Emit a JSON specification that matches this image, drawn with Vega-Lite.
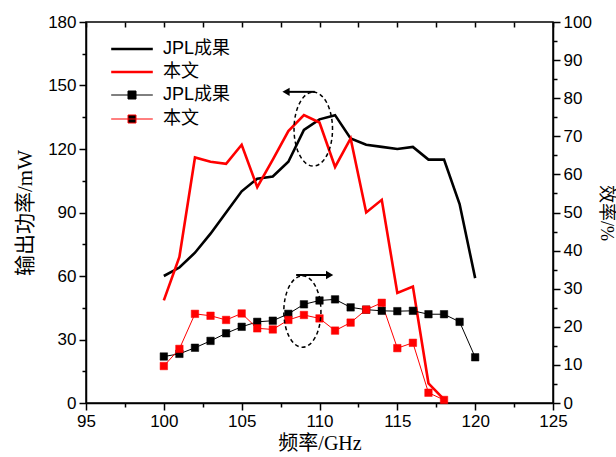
{
  "$schema": "https://vega.github.io/schema/vega-lite/v6.json",
  "width": 467,
  "height": 381,
  "autosize": "none",
  "padding": {"left": 86, "top": 22, "right": 63, "bottom": 54},
  "background": "white",
  "config": {
    "font": "Liberation Sans",
    "view": {"stroke": "black", "strokeWidth": 1.5},
    "axis": {
      "grid": false,
      "domainColor": "black",
      "domainWidth": 1.5,
      "tickColor": "black",
      "tickWidth": 1.5,
      "labelColor": "black",
      "labelFont": "Liberation Sans",
      "labelFontSize": 17,
      "titleColor": "black",
      "titleFontWeight": "normal",
      "titleFont": "Liberation Serif, Noto Sans CJK SC"
    }
  },
  "datasets": {
    "power": [
      {"freq": 100, "power": 60, "series": "JPL成果"},
      {"freq": 101, "power": 64, "series": "JPL成果"},
      {"freq": 102, "power": 71, "series": "JPL成果"},
      {"freq": 103, "power": 80, "series": "JPL成果"},
      {"freq": 104, "power": 90, "series": "JPL成果"},
      {"freq": 105, "power": 100, "series": "JPL成果"},
      {"freq": 106, "power": 106, "series": "JPL成果"},
      {"freq": 107, "power": 107, "series": "JPL成果"},
      {"freq": 108, "power": 114, "series": "JPL成果"},
      {"freq": 109, "power": 129, "series": "JPL成果"},
      {"freq": 110, "power": 134, "series": "JPL成果"},
      {"freq": 111, "power": 136, "series": "JPL成果"},
      {"freq": 112, "power": 125, "series": "JPL成果"},
      {"freq": 113, "power": 122, "series": "JPL成果"},
      {"freq": 114, "power": 121, "series": "JPL成果"},
      {"freq": 115, "power": 120, "series": "JPL成果"},
      {"freq": 116, "power": 121, "series": "JPL成果"},
      {"freq": 117, "power": 115, "series": "JPL成果"},
      {"freq": 118, "power": 115, "series": "JPL成果"},
      {"freq": 119, "power": 94, "series": "JPL成果"},
      {"freq": 120, "power": 59, "series": "JPL成果"},
      {"freq": 100, "power": 48.5, "series": "本文"},
      {"freq": 101, "power": 69, "series": "本文"},
      {"freq": 102, "power": 116, "series": "本文"},
      {"freq": 103, "power": 114, "series": "本文"},
      {"freq": 104, "power": 113, "series": "本文"},
      {"freq": 105, "power": 122, "series": "本文"},
      {"freq": 106, "power": 102, "series": "本文"},
      {"freq": 107, "power": 115, "series": "本文"},
      {"freq": 108, "power": 128.5, "series": "本文"},
      {"freq": 109, "power": 136, "series": "本文"},
      {"freq": 110, "power": 132.5, "series": "本文"},
      {"freq": 111, "power": 111.5, "series": "本文"},
      {"freq": 112, "power": 125, "series": "本文"},
      {"freq": 113, "power": 90, "series": "本文"},
      {"freq": 114, "power": 96, "series": "本文"},
      {"freq": 115, "power": 52, "series": "本文"},
      {"freq": 116, "power": 55, "series": "本文"},
      {"freq": 117, "power": 9.3, "series": "本文"},
      {"freq": 118, "power": 1.7, "series": "本文"}
    ],
    "eff": [
      {"freq": 100, "eff": 12.2, "series": "JPL成果"},
      {"freq": 101, "eff": 12.9, "series": "JPL成果"},
      {"freq": 102, "eff": 14.5, "series": "JPL成果"},
      {"freq": 103, "eff": 16.3, "series": "JPL成果"},
      {"freq": 104, "eff": 18.3, "series": "JPL成果"},
      {"freq": 105, "eff": 20, "series": "JPL成果"},
      {"freq": 106, "eff": 21.3, "series": "JPL成果"},
      {"freq": 107, "eff": 21.6, "series": "JPL成果"},
      {"freq": 108, "eff": 23.4, "series": "JPL成果"},
      {"freq": 109, "eff": 25.9, "series": "JPL成果"},
      {"freq": 110, "eff": 26.9, "series": "JPL成果"},
      {"freq": 111, "eff": 27.2, "series": "JPL成果"},
      {"freq": 112, "eff": 25.1, "series": "JPL成果"},
      {"freq": 113, "eff": 24.5, "series": "JPL成果"},
      {"freq": 114, "eff": 24.2, "series": "JPL成果"},
      {"freq": 115, "eff": 24.1, "series": "JPL成果"},
      {"freq": 116, "eff": 24.2, "series": "JPL成果"},
      {"freq": 117, "eff": 23.3, "series": "JPL成果"},
      {"freq": 118, "eff": 23.3, "series": "JPL成果"},
      {"freq": 119, "eff": 21.3, "series": "JPL成果"},
      {"freq": 120, "eff": 12, "series": "JPL成果"},
      {"freq": 100, "eff": 9.7, "series": "本文"},
      {"freq": 101, "eff": 14.2, "series": "本文"},
      {"freq": 102, "eff": 23.4, "series": "本文"},
      {"freq": 103, "eff": 22.9, "series": "本文"},
      {"freq": 104, "eff": 21.8, "series": "本文"},
      {"freq": 105, "eff": 23.5, "series": "本文"},
      {"freq": 106, "eff": 19.6, "series": "本文"},
      {"freq": 107, "eff": 19.3, "series": "本文"},
      {"freq": 108, "eff": 21.8, "series": "本文"},
      {"freq": 109, "eff": 23.1, "series": "本文"},
      {"freq": 110, "eff": 22.2, "series": "本文"},
      {"freq": 111, "eff": 19, "series": "本文"},
      {"freq": 112, "eff": 21.1, "series": "本文"},
      {"freq": 113, "eff": 24.5, "series": "本文"},
      {"freq": 114, "eff": 26.3, "series": "本文"},
      {"freq": 115, "eff": 14.4, "series": "本文"},
      {"freq": 116, "eff": 15.8, "series": "本文"},
      {"freq": 117, "eff": 2.7, "series": "本文"},
      {"freq": 118, "eff": 0.8, "series": "本文"}
    ]
  },
  "layer": [
    {
      "encoding": {
        "x": {
          "field": "freq", "type": "quantitative",
          "scale": {"domain": [95, 125], "nice": false, "zero": false},
          "axis": {
            "orient": "bottom",
            "values": [95, 97.5, 100, 102.5, 105, 107.5, 110, 112.5, 115, 117.5, 120, 122.5, 125],
            "labelExpr": "datum.value % 5 === 0 ? datum.label : ''",
            "tickSize": {"condition": {"test": "datum.value % 5 === 0", "value": 7}, "value": 4},
            "labelPadding": 3,
            "labelFlush": false,
            "labelOverlap": false,
            "title": "频率/GHz",
            "titleFontSize": 20,
            "titlePadding": 4
          }
        },
        "y": {
          "field": "power", "type": "quantitative",
          "scale": {"domain": [0, 180], "nice": false},
          "axis": {
            "orient": "left",
            "values": [0, 15, 30, 45, 60, 75, 90, 105, 120, 135, 150, 165, 180],
            "labelExpr": "datum.value % 30 === 0 ? datum.label : ''",
            "tickSize": {"condition": {"test": "datum.value % 30 === 0", "value": 7}, "value": 4},
            "labelPadding": 3,
            "labelFlush": false,
            "labelOverlap": false,
            "title": "输出功率/mW",
            "titleFontSize": 21,
            "titlePadding": 12
          }
        }
      },
      "layer": [
        {
          "data": {"name": "power"},
          "mark": {"type": "line", "strokeWidth": 2.6},
          "encoding": {
            "stroke": {
              "field": "series", "type": "nominal",
              "scale": {"domain": ["JPL成果", "本文"], "range": ["#000000", "#ff0000"]},
              "legend": {
                "orient": "none", "legendX": 37, "legendY": 18, "title": null,
                "padding": 0, "rowPadding": 5,
                "symbolType": "M-5.2,0H5.2", "symbolSize": 64, "symbolStrokeWidth": 2.6,
                "labelOffset": 22, "labelFont": "Liberation Sans, Noto Sans CJK SC",
                "labelFontSize": 18, "labelColor": "black"
              }
            }
          }
        },
        {
          "data": {"values": [{"freq": 109.6, "power": 129.4}]},
          "mark": {
            "type": "point",
            "shape": "M0,-1C0.287,-1,0.52,-0.552,0.52,0C0.52,0.552,0.287,1,0,1C-0.287,1,-0.52,0.552,-0.52,0C-0.52,-0.552,-0.287,-1,0,-1Z",
            "size": 5476, "filled": false, "stroke": "black", "strokeWidth": 1.5,
            "strokeDash": [4, 3], "opacity": 1
          }
        },
        {
          "data": {"values": [{"freq": 109.7, "freq2": 107.9, "power": 147}]},
          "mark": {"type": "rule", "stroke": "black", "strokeWidth": 2},
          "encoding": {"x2": {"field": "freq2"}}
        },
        {
          "data": {"values": [{"freq": 107.85, "power": 147}]},
          "mark": {"type": "point", "shape": "triangle-left", "size": 70, "filled": true, "color": "black", "opacity": 1}
        }
      ]
    },
    {
      "encoding": {
        "x": {
          "field": "freq", "type": "quantitative",
          "scale": {"domain": [95, 125], "nice": false, "zero": false},
          "axis": null
        },
        "y": {
          "field": "eff", "type": "quantitative",
          "scale": {"domain": [0, 100], "nice": false},
          "axis": {
            "orient": "right",
            "values": [0, 5, 10, 15, 20, 25, 30, 35, 40, 45, 50, 55, 60, 65, 70, 75, 80, 85, 90, 95, 100],
            "labelExpr": "datum.value % 10 === 0 ? datum.label : ''",
            "tickSize": {"condition": {"test": "datum.value % 10 === 0", "value": 7}, "value": 4},
            "labelPadding": 3,
            "labelFlush": false,
            "labelOverlap": false,
            "title": "效率/%",
            "titleFontSize": 18,
            "titlePadding": 5
          }
        }
      },
      "layer": [
        {
          "data": {"name": "eff"},
          "transform": [{"filter": "datum.series === 'JPL成果'"}],
          "mark": {"type": "line", "stroke": "black", "strokeWidth": 1}
        },
        {
          "data": {"name": "eff"},
          "transform": [{"filter": "datum.series === '本文'"}],
          "mark": {"type": "line", "stroke": "#ff0000", "strokeWidth": 1}
        },
        {
          "data": {"name": "eff"},
          "mark": {"type": "point", "shape": "square", "filled": true, "size": 56, "opacity": 1, "strokeWidth": 0.5},
          "encoding": {
            "fill": {
              "field": "series", "type": "nominal",
              "scale": {"domain": ["JPL成果", "本文"], "range": ["#000000", "#ff0000"]},
              "legend": {
                "orient": "none", "legendX": 37, "legendY": 64, "title": null,
                "padding": 0, "rowPadding": 6,
                "symbolType": "M-5.2,0H5.2M-1,-1H1V1H-1Z", "symbolSize": 64, "symbolStrokeWidth": 1,
                "symbolOpacity": 1,
                "labelOffset": 22, "labelFont": "Liberation Sans, Noto Sans CJK SC",
                "labelFontSize": 18, "labelColor": "black"
              }
            },
            "stroke": {
              "field": "series", "type": "nominal",
              "scale": {"domain": ["JPL成果", "本文"], "range": ["#000000", "#ff0000"]},
              "legend": {
                "orient": "none", "legendX": 37, "legendY": 64, "title": null,
                "padding": 0, "rowPadding": 6,
                "symbolType": "M-5.2,0H5.2M-1,-1H1V1H-1Z", "symbolSize": 64, "symbolStrokeWidth": 1,
                "symbolOpacity": 1,
                "labelOffset": 22, "labelFont": "Liberation Sans, Noto Sans CJK SC",
                "labelFontSize": 18, "labelColor": "black", "labelOpacity": 0
              }
            }
          }
        },
        {
          "data": {"values": [{"freq": 108.9, "eff": 24}]},
          "mark": {
            "type": "point",
            "shape": "M0,-1C0.287,-1,0.52,-0.552,0.52,0C0.52,0.552,0.287,1,0,1C-0.287,1,-0.52,0.552,-0.52,0C-0.52,-0.552,-0.287,-1,0,-1Z",
            "size": 5098, "filled": false, "stroke": "black", "strokeWidth": 1.5,
            "strokeDash": [4, 3], "opacity": 1
          }
        },
        {
          "data": {"values": [{"freq": 108.5, "freq2": 110.6, "eff": 33.6}]},
          "mark": {"type": "rule", "stroke": "black", "strokeWidth": 2},
          "encoding": {"x2": {"field": "freq2"}}
        },
        {
          "data": {"values": [{"freq": 110.65, "eff": 33.6}]},
          "mark": {"type": "point", "shape": "triangle-right", "size": 70, "filled": true, "color": "black", "opacity": 1}
        }
      ]
    },
    {
      "data": {"name": "power"},
      "mark": {"type": "point", "opacity": 0},
      "encoding": {
        "x": {
          "field": "freq", "type": "quantitative",
          "scale": {"domain": [95, 125], "nice": false, "zero": false},
          "axis": {
            "orient": "top",
            "values": [95, 97.5, 100, 102.5, 105, 107.5, 110, 112.5, 115, 117.5, 120, 122.5, 125],
            "labels": false,
            "domain": false,
            "tickSize": -5,
            "title": null
          }
        },
        "y": {
          "field": "power", "type": "quantitative",
          "scale": {"domain": [0, 180], "nice": false},
          "axis": null
        }
      }
    }
  ],
  "resolve": {
    "scale": {"y": "independent", "stroke": "independent"},
    "axis": {"x": "independent", "y": "independent"}
  }
}
